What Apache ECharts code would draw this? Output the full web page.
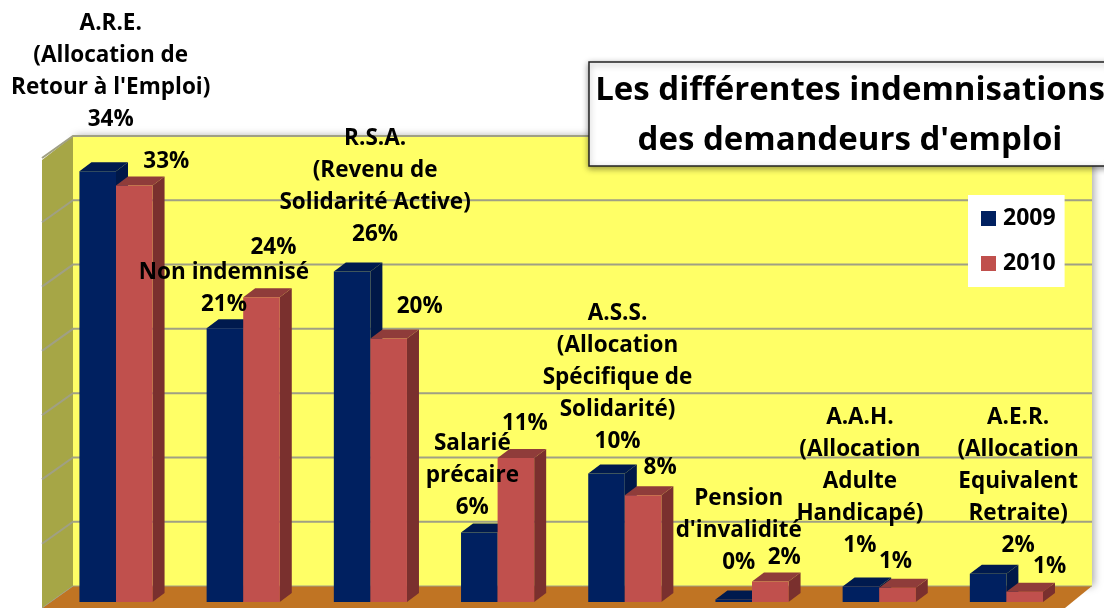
<!DOCTYPE html>
<html><head><meta charset="utf-8">
<style>html,body{margin:0;padding:0;background:#fff}#c{width:1104px;height:608px}</style>
<script src="https://cdn.jsdelivr.net/npm/echarts@6/dist/echarts.min.js"></script>
</head><body><div id="c"></div>
<script>
const categories = [
  "A.R.E.\n(Allocation de\nRetour à l'Emploi)",
  "Non indemnisé",
  "R.S.A.\n(Revenu de\nSolidarité Active)",
  "Salarié\nprécaire",
  "A.S.S.\n(Allocation\nSpécifique de\nSolidarité)",
  "Pension\nd'invalidité",
  "A.A.H.\n(Allocation\nAdulte\nHandicapé)",
  "A.E.R.\n(Allocation\nEquivalent\nRetraite)"
];
const seriesNames = ['2009', '2010'];
const values2009 = [33.5, 21.3, 25.7, 5.4, 10.0, 0.2, 1.2, 2.2];
const values2010 = [32.4, 23.7, 20.5, 11.2, 8.3, 1.6, 1.1, 0.8];
const shown2009 = [34, 21, 26, 6, 10, 0, 1, 2];
const shown2010 = [33, 24, 20, 11, 8, 2, 1, 1];
const wallTicks = [0, 5, 10, 15, 20, 25, 30, 35];
// label placement relative to the top centre of each bar
const nudge2009 = [[13,-36],[-1,-8],[23,-21],[-7,-9],[11,-16],[5,-21],[-1,-25],[30,-12]];
const nudge2010 = [[32,-8],[12,-34],[31,-16],[9,-18],[17,-12],[14,-8],[-2,-10],[25,-9]];

const FONT = '"Open Sans", sans-serif';
const labelFont = 'bold 22.5px ' + FONT;
const colors = {
  '2009': {front:'#002060', top:'#001a4e', side:'#001848'},
  '2010': {front:'#c0504d', top:'#8f3c3a', side:'#7a302e'}
};
const BAR_DX = 12, BAR_DY = 9;

function poly(points, fill, extra) {
  return {type:'polygon', shape:{points}, style:Object.assign({fill}, extra||{}), silent:true};
}
function wallItem(params, api) {
  const cs = params.coordSys;
  const L = cs.x, R = cs.x + cs.width;
  const yAt = v => api.coord([0, v])[1];
  const top = yAt(wallTicks[wallTicks.length-1]), bot = yAt(0);
  const bl = L + 20.6, fl = L - 10.4, br = R + 22, fr = R - 5;
  const by = -16, fy = 6;
  const kids = [
    poly([[bl,top+by],[br,top+by],[br,bot+by],[bl,bot+by]], '#ffff66', {shadowBlur:8, shadowColor:'rgba(0,0,0,0.35)', shadowOffsetX:2}),
    poly([[fl,top+fy+2],[bl,top+by],[bl,bot+by],[fl,bot+fy]], '#a6a646'),
    poly([[fl,bot+fy],[bl,bot+by],[br,bot+by],[fr,bot+fy]], '#c07423')
  ];
  wallTicks.forEach(t => {
    const y = yAt(t);
    const line = {stroke:'#a0a084', lineWidth:t===0?1:2};
    kids.push({type:'polyline', shape:{points:[[fl,y+fy],[bl,y+by],[br,y+by]]}, style:Object.assign({fill:null}, line), silent:true});
  });
  return {type:'group', children:kids};
}
function barItem(name, slot) {
  const c = colors[name];
  return function(params, api) {
    const i = api.value(0), v = api.value(1);
    const o = api.coord([i, 0]), t = api.coord([i, v]);
    const w = api.size([1, 0])[0] * 0.2875;
    const x0 = o[0] + slot * w, x1 = x0 + w;
    const yT = t[1], yB = o[1];
    return {type:'group', children:[
      poly([[x1,yT],[x1+BAR_DX,yT-BAR_DY],[x1+BAR_DX,yB-BAR_DY],[x1,yB]], c.side),
      poly([[x0,yT],[x0+BAR_DX,yT-BAR_DY],[x1+BAR_DX,yT-BAR_DY],[x1,yT]], c.top),
      poly([[x0,yT],[x1,yT],[x1,yB],[x0,yB]], c.front)
    ]};
  };
}
function labelItem(values, shown, nudges, slot, withName) {
  return function(params, api) {
    const i = api.value(0);
    const p = api.coord([i, values[i]]);
    const w = api.size([1, 0])[0] * 0.2875;
    const cx = p[0] + slot * w + w / 2;
    const txt = (withName ? categories[i] + '\n' : '') + shown[i] + '%';
    return {type:'text', silent:true, style:{
      text:txt, x:cx + nudges[i][0], y:p[1] + nudges[i][1],
      align:'center', verticalAlign:'bottom', font:labelFont, lineHeight:32, fill:'#000'
    }};
  };
}
const idx = categories.map((_, i) => i);
const option = {
  animation:false,
  backgroundColor:'#fff',
  grid:{left:52.4, width:1017.6, top:152, height:450},
  xAxis:{type:'category', data:categories, show:false},
  yAxis:{type:'value', min:0, max:35, interval:5, show:false},
  title:{
    text:"Les différentes indemnisations\ndes demandeurs d'emploi",
    left:844, top:62, textAlign:'center', z:20,
    backgroundColor:'#fff', borderColor:'#222', borderWidth:1.5,
    shadowBlur:6, shadowColor:'rgba(0,0,0,0.4)', shadowOffsetY:2,
    padding:[4,7,0,6],
    textStyle:{fontFamily:FONT, fontWeight:'bold', fontSize:33, lineHeight:50, color:'#000', align:'center'}
  },
  legend:{
    data:seriesNames, orient:'vertical', left:968, top:195, z:15,
    backgroundColor:'#fff', padding:[12,9,12,13], itemGap:22,
    itemWidth:15, itemHeight:15, icon:'rect',
    textStyle:{fontFamily:FONT, fontWeight:'bold', fontSize:23, color:'#000', padding:[0,0,0,2]},
    selectedMode:false
  },
  series:[
    {type:'custom', name:'walls', z:1, silent:true, data:[[0,0]], renderItem:wallItem},
    {type:'custom', name:'2009', z:3, silent:true, itemStyle:{color:colors['2009'].front},
     data:values2009.map((v,i)=>[i,v]), renderItem:barItem('2009',-1)},
    {type:'custom', name:'2010', z:4, silent:true, itemStyle:{color:colors['2010'].front},
     data:values2010.map((v,i)=>[i,v]), renderItem:barItem('2010',0)},
    {type:'custom', name:'labels2009', z:10, silent:true, data:idx.map(i=>[i,values2009[i]]),
     renderItem:labelItem(values2009, shown2009, nudge2009, -1, true)},
    {type:'custom', name:'labels2010', z:10, silent:true, data:idx.map(i=>[i,values2010[i]]),
     renderItem:labelItem(values2010, shown2010, nudge2010, 0, false)}
  ]
};
echarts.init(document.getElementById('c')).setOption(option);
</script></body></html>
